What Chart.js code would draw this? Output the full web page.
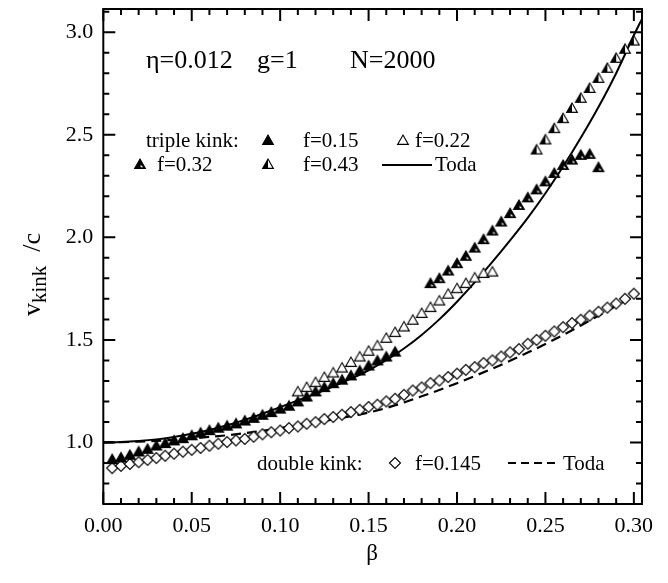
<!DOCTYPE html>
<html>
<head>
<meta charset="utf-8">
<script src="https://cdn.jsdelivr.net/npm/chart.js@4.4.1/dist/chart.umd.min.js"></script>
<style>
  body { margin: 0; background: #fff; }
  #wrap { width: 668px; height: 583px; }
</style>
</head>
<body>
<div id="wrap"><canvas id="ch1" width="668" height="583"></canvas></div>
<script>
// triple kink, f=0.15 (filled triangles)
const betaF015 = [0.005,0.010,0.015,0.020,0.025,0.030,0.035,0.040,0.045,0.050,0.055,0.060,0.065,0.070,0.075,0.080,0.085,
  0.090,0.095,0.100,0.105,0.110,0.115,0.120,0.125,0.130,0.135,0.140,0.145,0.150,0.155,0.160,0.165];
const vF015 = [0.919,0.927,0.940,0.956,0.969,0.985,0.997,1.010,1.021,1.035,1.048,1.060,1.072,1.082,1.093,1.107,1.120,
  1.135,1.148,1.165,1.179,1.200,1.224,1.249,1.270,1.289,1.306,1.327,1.351,1.375,1.400,1.419,1.443];

// triple kink, f=0.22 (open triangles)
const betaF022 = [0.110,0.115,0.120,0.125,0.130,0.135,0.140,0.145,0.150,0.155,0.160,0.165,0.170,0.175,0.180,0.185,
  0.190,0.195,0.200,0.205,0.210,0.215,0.220];
const vF022 = [1.249,1.270,1.294,1.319,1.341,1.365,1.392,1.419,1.447,1.473,1.510,1.538,1.565,1.598,1.631,1.660,
  1.692,1.725,1.752,1.777,1.804,1.826,1.833];

// triple kink, f=0.32
const betaF032 = [0.185,0.190,0.195,0.200,0.205,0.210,0.215,0.220,0.225,0.230,0.235,0.240,0.245,0.250,0.255,0.260,
  0.265,0.270,0.275,0.280];
const vF032 = [1.777,1.801,1.838,1.874,1.910,1.950,1.991,2.033,2.077,2.118,2.158,2.195,2.234,2.273,2.314,2.353,
  2.379,2.402,2.407,2.342];

// triple kink, f=0.43
const betaF043 = [0.245,0.250,0.255,0.260,0.265,0.270,0.275,0.280,0.285,0.290,0.295,0.300];
const vF043 = [2.428,2.477,2.532,2.581,2.631,2.680,2.728,2.777,2.826,2.875,2.919,2.959];

// double kink, f=0.145 (diamonds)
const betaF0145 = [0.005,0.010,0.015,0.020,0.025,0.030,0.035,0.040,0.045,0.050,0.055,0.060,0.065,0.070,0.075,0.080,
  0.085,0.090,0.095,0.100,0.105,0.110,0.115,0.120,0.125,0.130,0.135,0.140,0.145,0.150,0.155,0.160,0.165,0.170,
  0.175,0.180,0.185,0.190,0.195,0.200,0.205,0.210,0.215,0.220,0.225,0.230,0.235,0.240,0.245,0.250,0.255,0.260,
  0.265,0.270,0.275,0.280,0.285,0.290,0.295,0.300];
const vF0145 = [0.875,0.886,0.895,0.904,0.915,0.924,0.935,0.945,0.955,0.964,0.973,0.984,0.994,1.002,1.010,1.017,
  1.028,1.040,1.050,1.058,1.070,1.078,1.091,1.099,1.114,1.124,1.135,1.148,1.159,1.173,1.184,1.200,1.213,1.232,
  1.253,1.268,1.289,1.302,1.319,1.335,1.354,1.367,1.387,1.400,1.419,1.439,1.455,1.481,1.500,1.520,1.541,1.562,
  1.582,1.598,1.618,1.637,1.657,1.677,1.700,1.725];

// Toda curves (solid: triple kink, dashed: double kink)
const betaTodaT = [0,0.01,0.02,0.03,0.04,0.05,0.06,0.07,0.08,0.09,0.10,0.11,0.12,0.13,0.14,0.15,0.16,0.17,0.18,
  0.19,0.20,0.21,0.22,0.23,0.24,0.25,0.26,0.27,0.28,0.29,0.30,0.3046];
const vTodaT = [1.000,1.002,1.007,1.015,1.027,1.042,1.061,1.084,1.110,1.140,1.172,1.205,1.238,1.273,1.311,1.352,
  1.401,1.458,1.524,1.600,1.686,1.780,1.880,1.985,2.095,2.215,2.345,2.485,2.635,2.800,2.985,3.065];
const betaTodaD = [0,0.01,0.02,0.03,0.04,0.05,0.06,0.07,0.08,0.09,0.10,0.11,0.12,0.13,0.14,0.15,0.16,0.17,0.18,
  0.19,0.20,0.21,0.22,0.23,0.24,0.25,0.26,0.27,0.28,0.29,0.30];
const vTodaD = [1.000,1.001,1.004,1.008,1.013,1.019,1.027,1.035,1.045,1.057,1.070,1.083,1.097,1.112,1.128,1.146,
  1.168,1.195,1.225,1.256,1.289,1.324,1.360,1.398,1.438,1.480,1.524,1.570,1.618,1.666,1.712];

const xTicks = [0, 0.05, 0.10, 0.15, 0.20, 0.25, 0.30];
const yTicks = [1.0, 1.5, 2.0, 2.5, 3.0];

const serif = "'Liberation Serif', 'Times New Roman', serif";

function pts(xs, ys) {
  return xs.map(function(b, i) { return {x: b, y: ys[i]}; });
}

// small canvases used as point styles (and reused in the legend)
function makeMarker(kind) {
  const c = document.createElement('canvas');
  c.width = 14; c.height = 14;
  const g = c.getContext('2d');
  g.strokeStyle = '#000';
  g.lineWidth = 1.1;
  if (kind == 'diamond') {
    g.beginPath();
    g.moveTo(1.5, 7); g.lineTo(7, 1.5); g.lineTo(12.5, 7); g.lineTo(7, 12.5);
    g.closePath();
    g.fillStyle = '#fff'; g.fill(); g.stroke();
    return c;
  }
  const cx = 7, cy = 8.3, r = 6.2;
  function tri() {
    g.beginPath();
    g.moveTo(cx, cy - r);
    g.lineTo(cx + r * 0.866, cy + r / 2);
    g.lineTo(cx - r * 0.866, cy + r / 2);
    g.closePath();
  }
  tri();
  if (kind == 'filled') {
    g.fillStyle = '#000'; g.fill(); g.stroke();
  } else if (kind == 'open') {
    g.fillStyle = '#fff'; g.fill(); g.stroke();
  } else if (kind == 'half') {
    g.fillStyle = '#fff'; g.fill();
    g.save();
    g.beginPath(); g.rect(0, 0, cx, 14); g.clip();
    tri(); g.fillStyle = '#000'; g.fill();
    g.restore();
    tri(); g.stroke();
  } else { // notched: black with a small white corner
    g.fillStyle = '#000'; g.fill(); g.stroke();
    g.beginPath();
    g.moveTo(cx + 0.6, cy - 0.6);
    g.lineTo(cx + 0.6, cy + 1.9);
    g.lineTo(cx + 3.2, cy + 1.9);
    g.closePath();
    g.fillStyle = '#fff'; g.fill();
  }
  return c;
}

const mFilled = makeMarker('filled');
const mOpen = makeMarker('open');
const mNotch = makeMarker('notch');
const mHalf = makeMarker('half');
const mDiamond = makeMarker('diamond');

function markerSet(data, img) {
  return {data: data, pointStyle: img, pointRadius: 5, showLine: false};
}

// frame, inward ticks, axis titles and the text inside the plot
const decor = {
  id: 'decor',
  afterDraw: function(chart) {
    const ctx = chart.ctx, a = chart.chartArea, xs = chart.scales.x, ys = chart.scales.y;
    ctx.save();
    ctx.strokeStyle = '#000';
    ctx.lineWidth = 2;
    ctx.strokeRect(a.left, a.top, a.right - a.left, a.bottom - a.top);
    ctx.beginPath();
    for (let i = 0; i <= 30; i++) {
      const px = xs.getPixelForValue(i / 100);
      const len = (i % 5 == 0) ? 12 : 6;
      ctx.moveTo(px, a.bottom); ctx.lineTo(px, a.bottom - len);
      ctx.moveTo(px, a.top); ctx.lineTo(px, a.top + len);
    }
    for (let i = 8; i <= 31; i++) {
      const py = ys.getPixelForValue(i / 10);
      const len = (i % 5 == 0) ? 12 : 6;
      ctx.moveTo(a.left, py); ctx.lineTo(a.left + len, py);
      ctx.moveTo(a.right, py); ctx.lineTo(a.right - len, py);
    }
    ctx.stroke();

    ctx.fillStyle = '#000';
    ctx.textBaseline = 'alphabetic';
    ctx.textAlign = 'left';

    // x title
    ctx.font = '23px ' + serif;
    ctx.textAlign = 'center';
    ctx.fillText('\u03b2', 372, 560);
    ctx.textAlign = 'left';

    // y title, rotated
    ctx.save();
    ctx.translate(40, 316);
    ctx.rotate(-Math.PI / 2);
    ctx.font = '26px ' + serif;
    ctx.fillText('v', 0, 0);
    let w = ctx.measureText('v').width;
    ctx.font = '21px ' + serif;
    ctx.fillText('kink', w, 6);
    w += ctx.measureText('kink').width + 14;
    ctx.font = '26px ' + serif;
    ctx.fillText('/c', w, 0);
    ctx.restore();

    // parameters
    ctx.font = '26px ' + serif;
    ctx.fillText('\u03b7=0.012', 146, 68);
    ctx.fillText('g=1', 257, 68);
    ctx.fillText('N=2000', 350, 68);

    // legend, triple kink
    ctx.font = '21px ' + serif;
    ctx.fillText('triple kink:', 146, 147);
    ctx.drawImage(mFilled, 268 - 7, 140 - 7);
    ctx.fillText('f=0.15', 303, 147);
    ctx.drawImage(mOpen, 403 - 7, 140 - 7);
    ctx.fillText('f=0.22', 415, 147);
    ctx.drawImage(mNotch, 140 - 7, 164 - 7);
    ctx.fillText('f=0.32', 157, 171);
    ctx.drawImage(mHalf, 268 - 7, 164 - 7);
    ctx.fillText('f=0.43', 303, 171);
    ctx.beginPath();
    ctx.lineWidth = 1.8;
    ctx.moveTo(382, 165); ctx.lineTo(432, 165);
    ctx.stroke();
    ctx.fillText('Toda', 435, 171);

    // legend, double kink
    ctx.fillText('double kink:', 257, 470);
    ctx.drawImage(mDiamond, 395 - 7, 463 - 7);
    ctx.fillText('f=0.145', 415, 470);
    ctx.beginPath();
    ctx.setLineDash([8, 5]);
    ctx.moveTo(508, 463); ctx.lineTo(557, 463);
    ctx.stroke();
    ctx.setLineDash([]);
    ctx.fillText('Toda', 563, 470);
    ctx.restore();
  }
};

let chart;

function addChart() {
  const myChart = document.getElementById('ch1').getContext('2d');
  chart = new Chart(myChart, {
    type: 'scatter',
    data: {
      datasets: [
        markerSet(pts(betaF015, vF015), mFilled),
        markerSet(pts(betaF022, vF022), mOpen),
        markerSet(pts(betaF032, vF032), mNotch),
        markerSet(pts(betaF043, vF043), mHalf),
        markerSet(pts(betaF0145, vF0145), mDiamond),
        {
          data: pts(betaTodaT, vTodaT),
          showLine: true, pointRadius: 0, borderColor: '#000', borderWidth: 2,
          cubicInterpolationMode: 'monotone'
        },
        {
          data: pts(betaTodaD, vTodaD),
          showLine: true, pointRadius: 0, borderColor: '#000', borderWidth: 2.2,
          borderDash: [10, 6], cubicInterpolationMode: 'monotone'
        }
      ]
    },
    options: {
      responsive: false,
      animation: false,
      devicePixelRatio: 1,
      layout: {padding: {top: 9, right: 26, left: 0, bottom: 0}},
      plugins: {legend: {display: false}, tooltip: {enabled: false}},
      scales: {
        x: {
          type: 'linear', min: 0, max: 0.3046,
          grid: {display: false, drawTicks: false},
          border: {display: false},
          afterBuildTicks: function(s) { s.ticks = xTicks.map(function(v) { return {value: v}; }); },
          ticks: {
            padding: 9, color: '#000', maxRotation: 0, autoSkip: false,
            font: {family: serif, size: 22},
            callback: function(v) { return Number(v).toFixed(2); }
          },
          afterFit: function(s) { s.height = 79; s.paddingLeft = 0; s.paddingRight = 0; }
        },
        y: {
          type: 'linear', min: 0.7, max: 3.113,
          grid: {display: false, drawTicks: false},
          border: {display: false},
          afterBuildTicks: function(s) { s.ticks = yTicks.map(function(v) { return {value: v}; }); },
          ticks: {
            padding: 10, color: '#000', autoSkip: false,
            font: {family: serif, size: 22},
            callback: function(v) { return Number(v).toFixed(1); }
          },
          afterFit: function(s) { s.width = 103.3; s.paddingTop = 0; s.paddingBottom = 0; }
        }
      }
    },
    plugins: [decor]
  });
}

addChart();
</script>
</body>
</html>
